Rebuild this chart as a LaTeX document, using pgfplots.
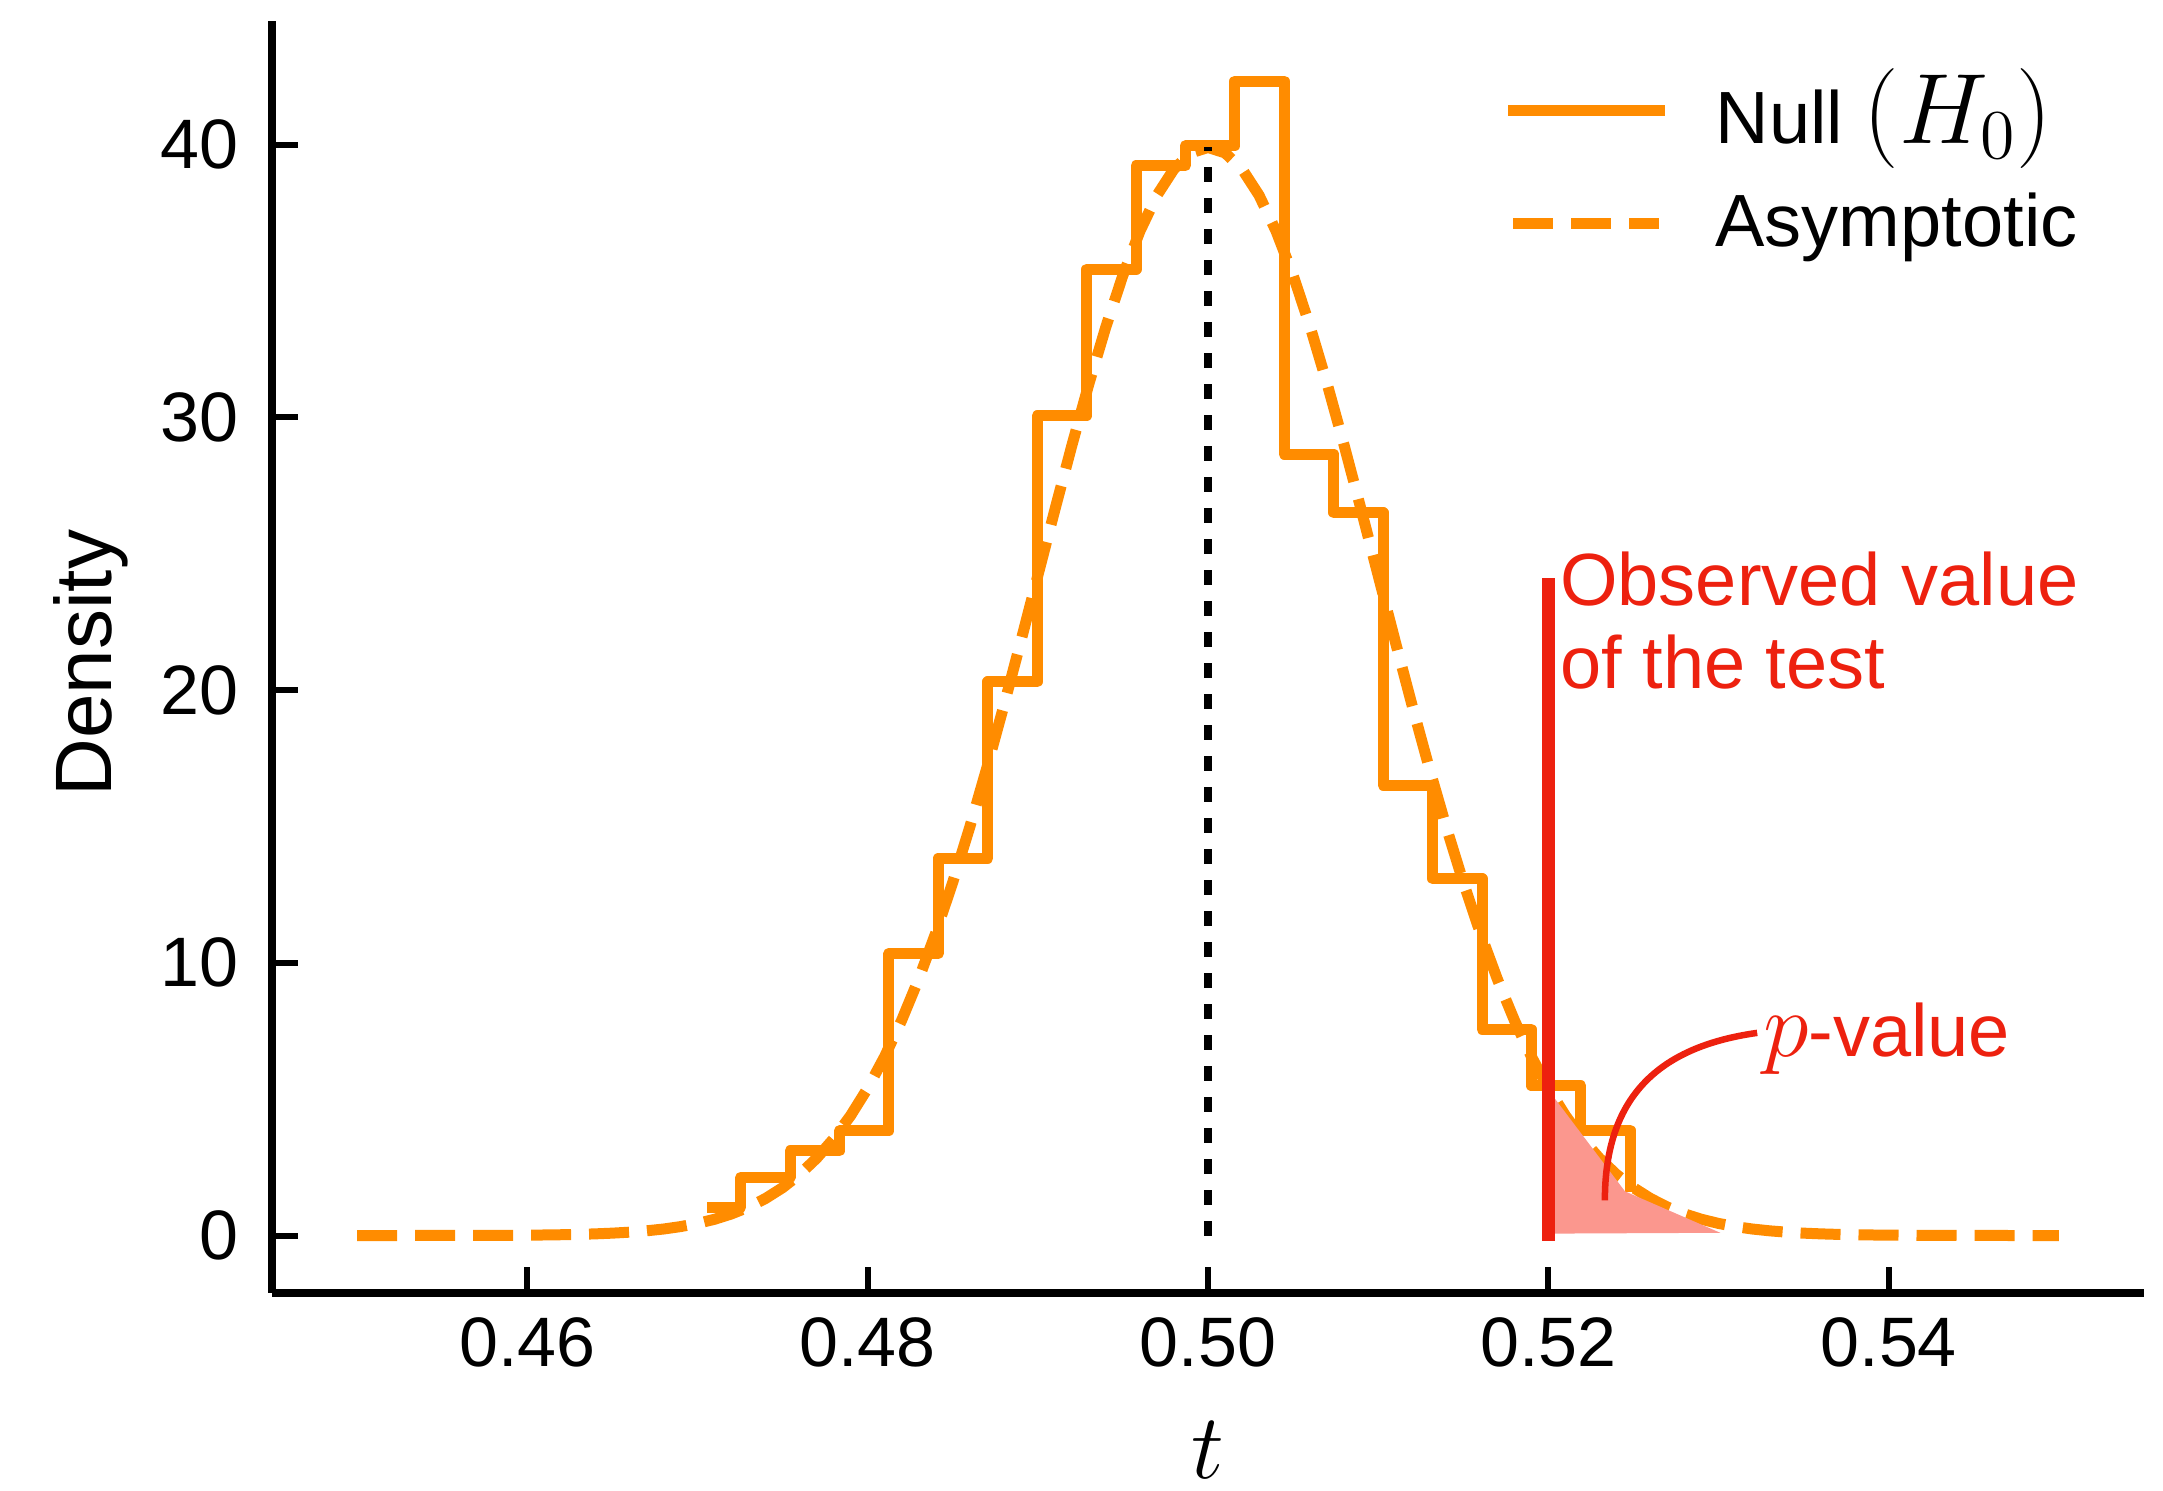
\RequirePackage{fix-cm}
\documentclass[border=0pt]{standalone}
\usepackage{fontspec}
\setmainfont{Liberation Sans}
\usepackage{pgfplots}
\pgfplotsset{compat=1.18}

\definecolor{nullorange}{RGB}{255,140,0}
\definecolor{obsred}{RGB}{237,33,15}
\definecolor{pfill}{RGB}{251,151,142}

% math in the labels is set larger than the sans text
\newcommand{\mth}[1]{{\fontsize{18.5}{20}\selectfont$#1$}}
\newcommand{\mthL}[1]{{\fontsize{20}{22}\selectfont$#1$}}

\begin{document}
\begin{tikzpicture}
\useasboundingbox (-54.4pt,-39.5pt) rectangle (378.2pt,258.5pt);
\begin{axis}[
    at={(0pt,0pt)}, anchor=south west,
    scale only axis, width=374.4pt, height=254.3pt,
    xmin=0.445, xmax=0.555, ymin=-2.09, ymax=44.53,
    axis x line=bottom, axis y line=left,
    axis line style={-, line width=1.6pt, black},
    tick align=inside, major tick length=5.2pt,
    every tick/.style={black, line width=1.2pt},
    xtick={0.46,0.48,0.50,0.52,0.54},
    xticklabels={0.46,0.48,0.50,0.52,0.54},
    ytick={0,10,20,30,40},
    yticklabels={0,10,20,30,40},
    tick label style={font=\fontsize{14}{16}\selectfont},
    xticklabel style={yshift=-1.4pt},
    yticklabel style={xshift=-3.1pt},
    xlabel={\mth{t}},
    every axis x label/.style={at={(rel axis cs:0.5,0)}, anchor=base, yshift=-37.2pt},
    ylabel={Density},
    every axis y label/.style={at={(rel axis cs:0,0.495)}, xshift=-32.2pt, rotate=90, anchor=base, font=\fontsize{16}{18}\selectfont},
    clip=false,
    legend style={at={(rel axis cs:0.6595,0.9650)}, anchor=north west,
        draw=none, fill=none, inner sep=0pt, row sep=7.3pt,
        font=\fontsize{14.8}{17}\selectfont, nodes={inner sep=0.5pt}},
    legend cell align=left,
    legend image code/.code={\draw[#1] (0pt,0pt) -- (29.2pt,0pt); \path[draw=none] (0pt,0pt) -- (40pt,0pt);},
]

% --- null distribution (step histogram) ---
\addplot[const plot, nullorange, line width=2.2pt, line join=round, line cap=rect] coordinates {
    (0.47090,1.03) (0.47254,2.13) (0.47544,3.10) (0.47835,3.84)
    (0.48125,10.34) (0.48415,13.83) (0.48706,20.30) (0.48996,30.05)
    (0.49287,35.43) (0.49577,39.23) (0.49867,39.95) (0.50158,42.33)
    (0.50448,28.65) (0.50739,26.50) (0.51029,16.51) (0.51320,13.08)
    (0.51610,7.56) (0.51900,5.49) (0.52191,3.86) (0.52481,1.80)
};
\addlegendentry{Null \mthL{(H_0)}}

% --- asymptotic density ---
\addplot[nullorange, line width=2.2pt, dash pattern=on 8pt off 3.6pt, line cap=butt] table {
x y
0.450 0.000
0.453 0.001
0.456 0.003
0.458 0.006
0.460 0.013
0.461 0.020
0.462 0.029
0.463 0.042
0.464 0.061
0.465 0.087
0.466 0.123
0.467 0.172
0.468 0.238
0.469 0.327
0.470 0.443
0.471 0.595
0.472 0.792
0.473 1.042
0.474 1.358
0.475 1.753
0.476 2.239
0.477 2.833
0.478 3.547
0.479 4.398
0.480 5.399
0.481 6.562
0.482 7.895
0.483 9.405
0.484 11.092
0.485 12.952
0.486 14.973
0.487 17.137
0.488 19.419
0.489 21.785
0.490 24.197
0.491 26.608
0.492 28.969
0.493 31.225
0.494 33.322
0.495 35.207
0.496 36.827
0.497 38.139
0.498 39.104
0.499 39.695
0.500 39.894
0.501 39.695
0.502 39.104
0.503 38.139
0.504 36.827
0.505 35.207
0.506 33.322
0.507 31.225
0.508 28.969
0.509 26.608
0.510 24.197
0.511 21.785
0.512 19.419
0.513 17.137
0.514 14.973
0.515 12.952
0.516 11.092
0.517 9.405
0.518 7.895
0.519 6.562
0.520 5.399
0.521 4.398
0.522 3.547
0.523 2.833
0.524 2.239
0.525 1.753
0.526 1.358
0.527 1.042
0.528 0.792
0.529 0.595
0.530 0.443
0.531 0.327
0.532 0.238
0.533 0.172
0.534 0.123
0.535 0.087
0.536 0.061
0.537 0.042
0.538 0.029
0.539 0.020
0.540 0.013
0.542 0.006
0.544 0.003
0.547 0.001
0.550 0.000
};
\addlegendentry{Asymptotic}

% --- p-value area ---
\addplot[forget plot, draw=none, fill=pfill] coordinates {
    (0.5201,0.07) (0.5201,5.25) (0.5245,1.62) (0.5301,0.10)
} -- cycle;

% --- mean marker ---
\addplot[forget plot, black, line width=1.6pt, dash pattern=on 3pt off 3.2pt] coordinates {(0.5,0) (0.5,39.9)};

% --- observed value ---
\addplot[forget plot, obsred, line width=2.45pt] coordinates {(0.52,-0.2) (0.52,24.1)};

\draw[obsred, line width=1.3pt] (axis cs:0.52332,1.29) to[out=90, in=188, looseness=1.15] (axis cs:0.53227,7.43);
\node[anchor=base west, inner sep=0pt, text=obsred, font=\fontsize{14.8}{17}\selectfont] at (axis cs:0.52064,23.09) {Observed value};
\node[anchor=base west, inner sep=0pt, text=obsred, font=\fontsize{14.8}{17}\selectfont] at (axis cs:0.52064,20.07) {of the test};
\node[anchor=base west, inner sep=0pt, text=obsred, font=\fontsize{14.8}{17}\selectfont] at (axis cs:0.53256,6.57) {\mth{p}-value};
\end{axis}
\end{tikzpicture}
\end{document}
